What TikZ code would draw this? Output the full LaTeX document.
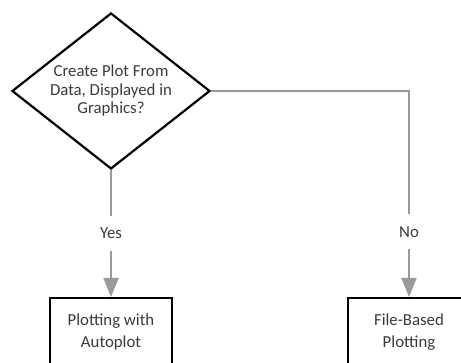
\documentclass[tikz,border=0pt]{standalone}
\usepackage{fontspec}
\setmainfont{Carlito}
\usetikzlibrary{arrows.meta,shapes.geometric}
\definecolor{txt}{HTML}{3A3A3A}
\definecolor{conn}{HTML}{9A9A9A}
\begin{document}
\begin{tikzpicture}[x=1pt,y=-1pt,
  every node/.style={font=\fontsize{16.8}{18.5}\selectfont, text=txt},
  decision/.style={diamond, draw=black, line width=2.2pt, aspect=1.27, inner sep=0pt, minimum width=198pt, minimum height=156pt},
  label/.style={align=center},
  procbox/.style={draw=black, line width=2.2pt, minimum width=122pt, minimum height=68pt, align=center, anchor=north, font=\fontsize{16.8}{22}\selectfont},
  conn/.style={draw=conn, line width=2pt},
  arr/.style={conn, -{Triangle[length=19pt,width=15pt]}},
  lab/.style={fill=white, inner xsep=2pt, inner ysep=12pt}]
\useasboundingbox (0,0) rectangle (461,363);
\clip (0,0) rectangle (461,363);
\node[decision] (d) at (111,91) {};
\node[label] (dt) at (d.center) {Create Plot From\\Data, Displayed in\\Graphics?};
\node[procbox] (yes) at (111,297) {Plotting with\\Autoplot};
\node[procbox] (no) at (409,297) {File-Based\\Plotting};
\coordinate (corner) at (409,91);
\draw[arr] (d.south) -- node[lab, pos=0.5] (ly) {Yes} (yes.north);
\draw[arr] (d.east) -- (corner) -- node[lab, pos=0.683] (ln) {No} (no.north);
\end{tikzpicture}
\end{document}
